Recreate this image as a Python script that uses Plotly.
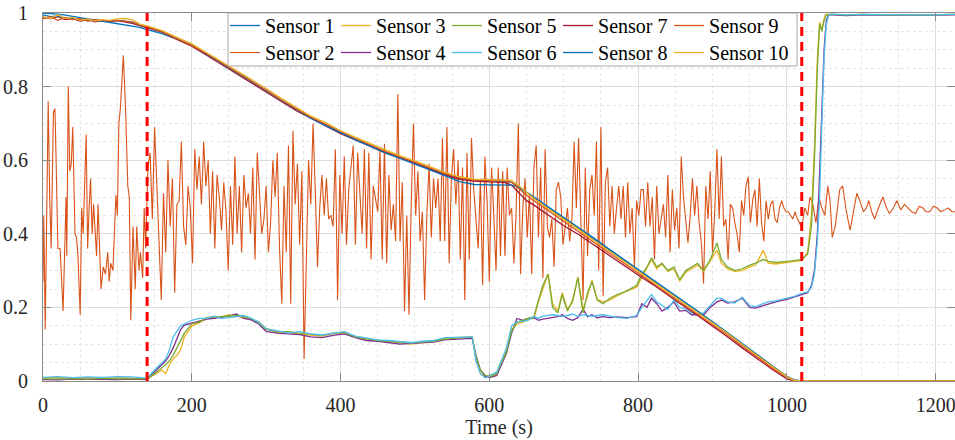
import numpy as np
import plotly.graph_objects as go

# ---------------- data ----------------
# Sensor 2 (noisy)
s2_t_early = [0, 1, 3, 5, 7, 9, 11, 14, 16, 17, 20, 23, 27, 31, 32, 34, 36, 38, 40, 43, 45, 47, 50, 52, 54,
              58, 60, 62, 64, 66, 68, 70, 72, 74, 78, 81, 84, 87, 89, 91, 94, 98, 100, 102, 104, 108, 111,
              114, 116, 118, 121, 124, 126, 129, 131, 134, 136, 138]
s2_v_early = [0.27, 0.45, 0.14, 0.40, 0.76, 0.50, 0.36, 0.73, 0.74, 0.66, 0.36, 0.36, 0.19, 0.50, 0.34, 0.80,
              0.57, 0.59, 0.69, 0.40, 0.39, 0.34, 0.18, 0.47, 0.40, 0.67, 0.36, 0.47, 0.55, 0.40, 0.48, 0.41,
              0.34, 0.48, 0.25, 0.31, 0.29, 0.35, 0.27, 0.32, 0.30, 0.505, 0.45, 0.70, 0.74, 0.885, 0.74,
              0.53, 0.50, 0.165, 0.42, 0.25, 0.42, 0.30, 0.35, 0.28, 0.47, 0.36]
s2_t_mid = np.arange(141, 1018, 3)
s2_v_mid = [
    0.58, 0.62, 0.44, 0.69, 0.53, 0.40, 0.22, 0.51, 0.35, 0.60,
    0.42, 0.55, 0.24, 0.48, 0.49, 0.65, 0.42, 0.37, 0.53, 0.47,
    0.32, 0.63, 0.52, 0.61, 0.48, 0.65, 0.53, 0.60, 0.40, 0.57,
    0.36, 0.56, 0.50, 0.41, 0.54, 0.46, 0.30, 0.53, 0.37, 0.61,
    0.40, 0.53, 0.35, 0.56, 0.47, 0.51, 0.40, 0.58, 0.33, 0.62,
    0.52, 0.40, 0.44, 0.53, 0.35, 0.43, 0.60, 0.50, 0.62, 0.36,
    0.21, 0.53, 0.35, 0.64, 0.21, 0.68, 0.48, 0.59, 0.37, 0.57,
    0.06, 0.32, 0.60, 0.48, 0.70, 0.52, 0.31, 0.47, 0.56, 0.45,
    0.55, 0.44, 0.45, 0.42, 0.63, 0.22, 0.56, 0.40, 0.61, 0.37,
    0.52, 0.58, 0.64, 0.37, 0.62, 0.51, 0.40, 0.63, 0.36, 0.62,
    0.33, 0.53, 0.50, 0.46, 0.63, 0.33, 0.645, 0.32, 0.56, 0.41,
    0.48, 0.38, 0.78, 0.38, 0.54, 0.19, 0.45, 0.18, 0.48, 0.70,
    0.45, 0.57, 0.38, 0.46, 0.22, 0.45, 0.59, 0.39, 0.55, 0.47,
    0.55, 0.38, 0.66, 0.38, 0.69, 0.32, 0.55, 0.63, 0.48, 0.60,
    0.33, 0.58, 0.22, 0.62, 0.33, 0.66, 0.52, 0.45, 0.36, 0.55,
    0.26, 0.61, 0.49, 0.27, 0.58, 0.45, 0.30, 0.58, 0.34, 0.57,
    0.34, 0.58, 0.45, 0.47, 0.32, 0.46, 0.70, 0.29, 0.47, 0.55,
    0.39, 0.51, 0.29, 0.58, 0.64, 0.39, 0.58, 0.28, 0.63, 0.42,
    0.39, 0.44, 0.31, 0.52, 0.54, 0.50, 0.37, 0.42, 0.47, 0.38,
    0.44, 0.65, 0.47, 0.66, 0.42, 0.22, 0.58, 0.34, 0.52, 0.56,
    0.45, 0.65, 0.30, 0.69, 0.23, 0.54, 0.58, 0.42, 0.53, 0.40,
    0.47, 0.53, 0.44, 0.53, 0.39, 0.54, 0.40, 0.47, 0.31, 0.49,
    0.45, 0.52, 0.52, 0.42, 0.54, 0.42, 0.50, 0.33, 0.53, 0.40,
    0.44, 0.48, 0.39, 0.56, 0.35, 0.52, 0.41, 0.47, 0.36, 0.61,
    0.50, 0.44, 0.375, 0.45, 0.55, 0.45, 0.53, 0.43, 0.375, 0.265,
    0.53, 0.44, 0.57, 0.35, 0.46, 0.63, 0.44, 0.61, 0.42, 0.44,
    0.33, 0.48, 0.47, 0.43, 0.40, 0.35, 0.49, 0.45, 0.53, 0.555,
    0.43, 0.49, 0.52, 0.42, 0.55, 0.43, 0.38, 0.49, 0.44, 0.48,
    0.49, 0.44, 0.43, 0.47, 0.49, 0.47, 0.46, 0.46, 0.45, 0.44,
    0.46, 0.44, 0.43]
s2_t_late = [1020, 1024, 1028, 1031, 1035, 1039, 1043, 1047, 1051, 1055, 1058, 1061, 1065, 1068, 1071, 1075,
             1080, 1085, 1089, 1094, 1098, 1103, 1107, 1110, 1114, 1118, 1123, 1129, 1134, 1138, 1143, 1148,
             1153, 1158, 1163, 1168, 1173, 1178, 1183, 1187, 1192, 1197, 1202, 1207, 1212, 1217, 1222, 1226]
s2_v_late = [0.415, 0.47, 0.45, 0.50, 0.48, 0.43, 0.50, 0.47, 0.45, 0.53, 0.49, 0.39, 0.42, 0.47, 0.52, 0.53,
             0.46, 0.41, 0.45, 0.51, 0.49, 0.46, 0.47, 0.49, 0.46, 0.44, 0.47, 0.50, 0.47, 0.455, 0.47, 0.49,
             0.465, 0.48, 0.47, 0.46, 0.455, 0.475, 0.47, 0.46, 0.46, 0.475, 0.47, 0.46, 0.465, 0.47, 0.46, 0.46]

# Decreasing group (Sensors 1, 7, 8, 9, 10)
t_a = [0, 10, 20, 30, 40, 50, 60, 70, 80, 90, 100, 110, 120, 130, 140, 160, 180, 200, 220, 240, 260, 280,
       300, 320, 340, 360, 380, 400, 420, 440, 460, 480, 500, 520, 540, 560, 580, 600, 620, 630, 640, 650,
       660, 680, 700, 720, 740, 760, 780, 800, 820, 840, 860, 880, 900, 920, 940, 960, 980, 1000, 1010,
       1020, 1040, 1080, 1120, 1160, 1200, 1226]
s1 = [1.0, 0.999, 0.997, 0.994, 0.99, 0.987, 0.984, 0.981, 0.978, 0.975, 0.972, 0.969, 0.966, 0.961, 0.955,
      0.944, 0.929, 0.911, 0.889, 0.865, 0.84, 0.815, 0.79, 0.763, 0.738, 0.715, 0.695, 0.675, 0.657, 0.64,
      0.622, 0.607, 0.592, 0.577, 0.562, 0.55, 0.545, 0.544, 0.543, 0.54, 0.527, 0.513, 0.498, 0.47, 0.443,
      0.415, 0.387, 0.358, 0.33, 0.302, 0.274, 0.246, 0.218, 0.19, 0.161, 0.132, 0.101, 0.071, 0.041, 0.013,
      0.003, 0.0, 0.0, 0.0, 0.0, 0.0, 0.0, 0.0]
s7 = [0.988, 0.985, 0.99, 0.982, 0.985, 0.978, 0.982, 0.976, 0.98, 0.977, 0.979, 0.976, 0.972, 0.966, 0.96,
      0.948, 0.928, 0.91, 0.885, 0.86, 0.837, 0.81, 0.787, 0.76, 0.735, 0.714, 0.694, 0.672, 0.655, 0.638,
      0.62, 0.606, 0.59, 0.575, 0.56, 0.548, 0.543, 0.541, 0.54, 0.532, 0.51, 0.49, 0.478, 0.45, 0.422,
      0.398, 0.37, 0.343, 0.316, 0.288, 0.262, 0.233, 0.205, 0.178, 0.15, 0.12, 0.09, 0.06, 0.032, 0.006,
      0.0, 0.0, 0.0, 0.0, 0.0, 0.0, 0.0, 0.0]
s8 = [0.995, 0.99, 0.992, 0.986, 0.985, 0.982, 0.98, 0.98, 0.978, 0.979, 0.98, 0.978, 0.975, 0.968, 0.962,
      0.95, 0.931, 0.913, 0.889, 0.864, 0.839, 0.814, 0.788, 0.762, 0.737, 0.714, 0.694, 0.674, 0.655, 0.638,
      0.62, 0.605, 0.59, 0.574, 0.558, 0.542, 0.534, 0.533, 0.533, 0.532, 0.526, 0.514, 0.5, 0.472, 0.445,
      0.417, 0.389, 0.36, 0.332, 0.304, 0.276, 0.248, 0.22, 0.19, 0.16, 0.13, 0.1, 0.07, 0.04, 0.012,
      0.002, 0.0, 0.0, 0.0, 0.0, 0.0, 0.0, 0.0]
s9 = [0.985, 0.99, 0.98, 0.988, 0.982, 0.985, 0.978, 0.982, 0.98, 0.978, 0.98, 0.978, 0.975, 0.968, 0.962,
      0.95, 0.93, 0.912, 0.89, 0.865, 0.84, 0.816, 0.79, 0.764, 0.74, 0.717, 0.697, 0.677, 0.659, 0.642,
      0.624, 0.609, 0.594, 0.579, 0.564, 0.552, 0.546, 0.545, 0.545, 0.54, 0.522, 0.505, 0.49, 0.462, 0.433,
      0.405, 0.377, 0.35, 0.322, 0.294, 0.266, 0.238, 0.21, 0.182, 0.154, 0.125, 0.095, 0.065, 0.036, 0.009,
      0.001, 0.0, 0.0, 0.0, 0.0, 0.0, 0.0, 0.0]
s10 = [0.99, 0.985, 0.995, 0.985, 0.988, 0.98, 0.984, 0.978, 0.982, 0.98, 0.984, 0.985, 0.982, 0.97, 0.965,
       0.952, 0.934, 0.916, 0.892, 0.868, 0.844, 0.82, 0.795, 0.768, 0.745, 0.72, 0.702, 0.68, 0.662, 0.645,
       0.628, 0.612, 0.598, 0.582, 0.567, 0.555, 0.548, 0.547, 0.546, 0.545, 0.53, 0.512, 0.496, 0.467, 0.44,
       0.412, 0.383, 0.355, 0.327, 0.3, 0.272, 0.243, 0.215, 0.187, 0.159, 0.13, 0.099, 0.069, 0.04, 0.012,
       0.002, 0.0, 0.0, 0.0, 0.0, 0.0, 0.0, 0.0]

# Rising group (Sensors 3, 4, 5, 6)
t_b = [0, 20, 40, 60, 80, 100, 120, 140, 150, 160,
       165, 170, 175, 180, 185, 190, 200, 210, 220, 230,
       240, 250, 260, 270, 280, 290, 300, 315, 330, 345,
       360, 375, 390, 405, 420, 435, 450, 465, 480, 495,
       510, 525, 540, 555, 570, 577, 582, 588, 595, 602,
       610, 617, 623, 630, 637, 645, 652, 660, 666, 672,
       679, 685, 692, 698, 705, 712, 719, 726, 732, 738,
       745, 753, 762, 772, 785, 798, 805, 812, 818, 825,
       832, 840, 848, 856, 864, 872, 880, 888, 897, 906,
       912, 920, 930, 940, 950, 958, 968, 975, 985, 1000,
       1010, 1020, 1028, 1033, 1037, 1041, 1044, 1047, 1050, 1053,
       1056, 1060, 1080, 1100, 1130, 1160, 1190, 1226]
s3 = [0.008, 0.01, 0.008, 0.009, 0.007, 0.009, 0.008, 0.006, 0.018, 0.03,
      0.02, 0.045, 0.06, 0.07, 0.085, 0.12, 0.15, 0.158, 0.17, 0.172,
      0.174, 0.18, 0.176, 0.172, 0.168, 0.16, 0.142, 0.133, 0.13, 0.128,
      0.125, 0.122, 0.128, 0.13, 0.12, 0.112, 0.11, 0.106, 0.104, 0.1,
      0.104, 0.11, 0.115, 0.118, 0.12, 0.12, 0.06, 0.02, 0.01, 0.015,
      0.02, 0.055, 0.085, 0.14, 0.155, 0.16, 0.168, 0.17, 0.215, 0.25,
      0.292, 0.21, 0.19, 0.24, 0.195, 0.215, 0.283, 0.195, 0.23, 0.274,
      0.222, 0.215, 0.22, 0.232, 0.245, 0.255, 0.28, 0.305, 0.33, 0.305,
      0.318, 0.298, 0.305, 0.272, 0.295, 0.305, 0.315, 0.298, 0.325, 0.355,
      0.32, 0.305, 0.298, 0.3, 0.31, 0.315, 0.355, 0.32, 0.318, 0.322,
      0.325, 0.328, 0.35, 0.45, 0.63, 0.88, 0.975, 0.955, 0.985, 0.997,
      0.996, 0.997, 0.995, 0.996, 0.995, 0.996, 0.995, 0.996]
s4 = [0.004, 0.003, 0.005, 0.004, 0.005, 0.004, 0.005, 0.004, 0.025, 0.045,
      0.055, 0.07, 0.09, 0.115, 0.14, 0.152, 0.158, 0.162, 0.168, 0.17,
      0.172, 0.176, 0.182, 0.17, 0.166, 0.155, 0.135, 0.13, 0.128, 0.126,
      0.12, 0.118, 0.124, 0.128, 0.118, 0.11, 0.108, 0.104, 0.1, 0.102,
      0.104, 0.106, 0.112, 0.114, 0.116, 0.116, 0.07, 0.03, 0.012, 0.01,
      0.015, 0.045, 0.075, 0.13, 0.17, 0.165, 0.17, 0.172, 0.165, 0.168,
      0.17, 0.172, 0.175, 0.18, 0.17, 0.165, 0.172, 0.195, 0.175, 0.18,
      0.172, 0.175, 0.172, 0.174, 0.172, 0.175, 0.21, 0.2, 0.225, 0.21,
      0.19, 0.2, 0.215, 0.19, 0.192, 0.18, 0.18, 0.18, 0.2, 0.215,
      0.22, 0.212, 0.215, 0.225, 0.2, 0.198, 0.205, 0.21, 0.215, 0.222,
      0.228, 0.235, 0.24, 0.26, 0.3, 0.4, 0.55, 0.75, 0.9, 0.98,
      0.995, 0.995, 0.993, 0.995, 0.994, 0.995, 0.994, 0.995]
s5 = [0.006, 0.007, 0.006, 0.005, 0.007, 0.006, 0.007, 0.006, 0.02, 0.035,
      0.045, 0.055, 0.07, 0.09, 0.11, 0.13, 0.155, 0.16, 0.172, 0.174,
      0.176, 0.178, 0.178, 0.174, 0.17, 0.158, 0.14, 0.134, 0.134, 0.13,
      0.126, 0.124, 0.13, 0.132, 0.12, 0.114, 0.11, 0.108, 0.106, 0.104,
      0.106, 0.108, 0.114, 0.116, 0.12, 0.12, 0.065, 0.03, 0.015, 0.012,
      0.02, 0.05, 0.08, 0.135, 0.16, 0.165, 0.17, 0.175, 0.22, 0.26,
      0.29, 0.2, 0.185, 0.235, 0.19, 0.22, 0.28, 0.185, 0.24, 0.27,
      0.22, 0.21, 0.225, 0.235, 0.245, 0.26, 0.29, 0.31, 0.335, 0.31,
      0.32, 0.3, 0.31, 0.275, 0.3, 0.31, 0.32, 0.3, 0.33, 0.375,
      0.33, 0.31, 0.3, 0.305, 0.315, 0.32, 0.33, 0.325, 0.322, 0.325,
      0.328, 0.33, 0.345, 0.42, 0.6, 0.85, 0.97, 0.95, 0.98, 0.995,
      0.995, 0.996, 0.995, 0.996, 0.995, 0.996, 0.995, 0.996]
s6 = [0.01, 0.012, 0.009, 0.011, 0.01, 0.012, 0.011, 0.008, 0.03, 0.05,
      0.06, 0.085, 0.12, 0.135, 0.15, 0.155, 0.165, 0.17, 0.17, 0.176,
      0.17, 0.172, 0.175, 0.178, 0.17, 0.16, 0.142, 0.135, 0.13, 0.134,
      0.128, 0.125, 0.13, 0.134, 0.122, 0.116, 0.112, 0.11, 0.108, 0.104,
      0.108, 0.11, 0.118, 0.118, 0.12, 0.12, 0.055, 0.02, 0.008, 0.015,
      0.025, 0.06, 0.09, 0.15, 0.16, 0.162, 0.165, 0.175, 0.17, 0.176,
      0.178, 0.18, 0.178, 0.175, 0.178, 0.182, 0.175, 0.18, 0.178, 0.176,
      0.178, 0.18, 0.176, 0.172, 0.17, 0.178, 0.2, 0.22, 0.235, 0.215,
      0.205, 0.195, 0.22, 0.2, 0.195, 0.185, 0.182, 0.185, 0.205, 0.225,
      0.225, 0.215, 0.212, 0.228, 0.205, 0.202, 0.21, 0.215, 0.218, 0.225,
      0.23, 0.238, 0.242, 0.255, 0.29, 0.38, 0.5, 0.7, 0.88, 0.97,
      0.993, 0.997, 0.995, 0.996, 0.995, 0.996, 0.995, 0.996]

event_times = [140, 1020]
x_ticks = [0, 200, 400, 600, 800, 1000, 1200]
y_ticks = [0, 0.2, 0.4, 0.6, 0.8, 1.0]
y_ticklabels = ["0", "0.2", "0.4", "0.6", "0.8", "1"]

# ---------------- figure ----------------
colors = ['#0072BD', '#D95319', '#EDB120', '#7E2F8E', '#77AC30',
          '#4DBEEE', '#A2142F', '#0072BD', '#D95319', '#EDB120']

s2_t = list(s2_t_early) + list(s2_t_mid) + list(s2_t_late)
s2_v = list(s2_v_early) + list(s2_v_mid) + list(s2_v_late)

series = [
    ("Sensor 1", t_a, s1),
    ("Sensor 2", s2_t, s2_v),
    ("Sensor 3", t_b, s3),
    ("Sensor 4", t_b, s4),
    ("Sensor 5", t_b, s5),
    ("Sensor 6", t_b, s6),
    ("Sensor 7", t_a, s7),
    ("Sensor 8", t_a, s8),
    ("Sensor 9", t_a, s9),
    ("Sensor 10", t_a, s10),
]

FONT = "Liberation Serif, Times New Roman, serif"

fig = go.Figure()
for i, (name, tx, vy) in enumerate(series):
    fig.add_trace(go.Scatter(
        x=tx, y=vy, mode="lines", name=name,
        line=dict(color=colors[i], width=1.1 if i == 1 else 1.3),
        legend="legend" if i % 2 == 0 else "legend2",
    ))

# invisible spacer entries so the last legend item is not clipped
for lg in ["legend", "legend2"]:
    fig.add_trace(go.Scatter(
        x=[None], y=[None], mode="lines", name=" ",
        line=dict(color="rgba(0,0,0,0)", width=0), legend=lg, hoverinfo="skip",
    ))

for et in event_times:
    fig.add_trace(go.Scatter(
        x=[et, et], y=[0, 1], mode="lines", showlegend=False,
        line=dict(color="#FF0000", width=3, dash="9px,6px"),
        hoverinfo="skip",
    ))

axis_common = dict(
    showline=True, linecolor="#8a8a8a", linewidth=1, mirror="allticks",
    ticks="inside", ticklen=8, tickcolor="#8a8a8a", tickwidth=1,
    showgrid=True, gridcolor="#dedede", gridwidth=1,
    zeroline=False, automargin=False, ticklabeloverflow="allow",
    tickfont=dict(family=FONT, size=20, color="#262626"),
)

fig.update_layout(
    width=955, height=440,
    margin=dict(l=43, r=0, t=13, b=59, pad=0, autoexpand=False),
    paper_bgcolor="white", plot_bgcolor="white",
    font=dict(family=FONT, size=20, color="#262626"),
    xaxis=dict(
        range=[0, 1226], tickvals=x_ticks,
        title=dict(text="Time (s)", font=dict(family=FONT, size=20, color="#262626"), standoff=4),
        ticklabelstandoff=6,
        minor=dict(dtick=50, tick0=0, showgrid=True, gridcolor="#e6e6e6", griddash="dot", ticks=""),
        **axis_common,
    ),
    yaxis=dict(
        range=[0, 1], tickvals=y_ticks, ticktext=y_ticklabels,
        ticklabelstandoff=10,
        minor=dict(dtick=0.05, tick0=0, showgrid=True, gridcolor="#e6e6e6", griddash="dot", ticks=""),
        **axis_common,
    ),
    legend=dict(
        orientation="h", x=0.1996, y=1.019, xanchor="left", yanchor="top",
        bgcolor="rgba(0,0,0,0)", borderwidth=0, entrywidth=66, itemwidth=30,
        font=dict(family=FONT, size=20, color="#000000"), tracegroupgap=0,
    ),
    legend2=dict(
        orientation="h", x=0.1996, y=0.9456, xanchor="left", yanchor="top",
        bgcolor="rgba(0,0,0,0)", borderwidth=0, entrywidth=66, itemwidth=30,
        font=dict(family=FONT, size=20, color="#000000"), tracegroupgap=0,
    ),
    shapes=[dict(
        type="rect", xref="paper", yref="paper",
        x0=0.2029, x1=0.8268, y0=0.856, y1=1.0,
        fillcolor="white", line=dict(color="#a6a6a6", width=1), layer="above",
    )],
)

fig.write_html(
    "out.html",
    config={"displayModeBar": False, "staticPlot": True},
    post_script="document.body.style.margin='0';document.body.style.padding='0';",
)
